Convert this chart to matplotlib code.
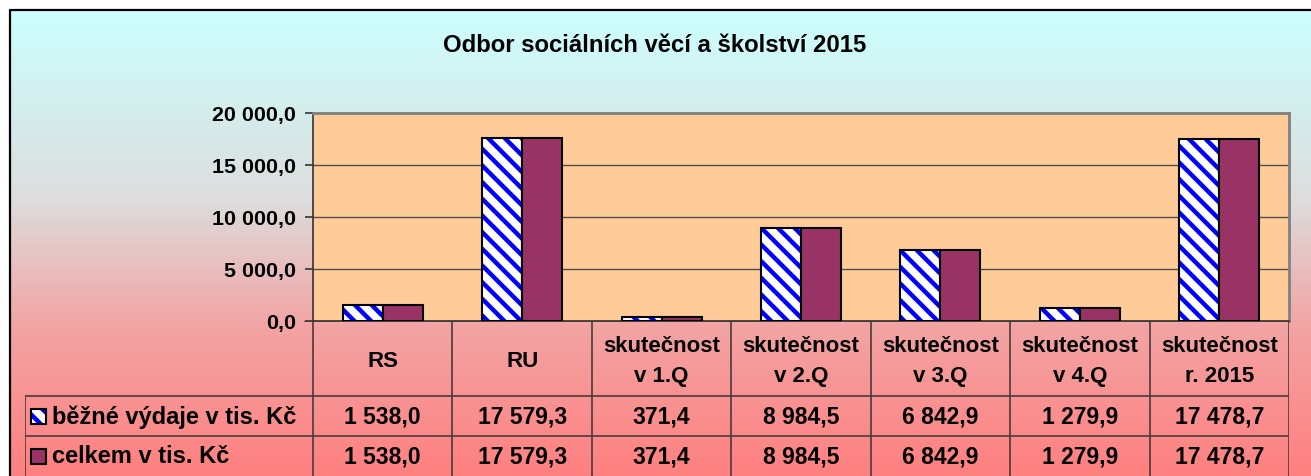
import numpy as np
import matplotlib
matplotlib.use("Agg")
import matplotlib.pyplot as plt
from matplotlib.patches import Rectangle

# ---- data ----
title = "Odbor sociálních věcí a školství 2015"
categories = ["RS", "RU", "skutečnost\nv 1.Q", "skutečnost\nv 2.Q",
              "skutečnost\nv 3.Q", "skutečnost\nv 4.Q", "skutečnost\nr. 2015"]
series_names = ["běžné výdaje v tis. Kč", "celkem v tis. Kč"]
bezne_vydaje = [1538.0, 17579.3, 371.4, 8984.5, 6842.9, 1279.9, 17478.7]
celkem = [1538.0, 17579.3, 371.4, 8984.5, 6842.9, 1279.9, 17478.7]
yticks = [0, 5000, 10000, 15000, 20000]

plt.rcParams['font.family'] = ['Liberation Sans', 'DejaVu Sans']
plt.rcParams['hatch.linewidth'] = 3.2

def fmt(v):
    s = f"{v:,.1f}"
    return s.replace(",", " ").replace(".", ",")

W, H = 1311, 477
fig = plt.figure(figsize=(W / 100, H / 100), dpi=100)
fig.patch.set_facecolor("white")

# ---- background gradient ----
bg = fig.add_axes([0, 0, 1, 1])
bg.set_xlim(0, W)
bg.set_ylim(H, 0)
bg.axis("off")
stops_y = [11, 200, 330, 477]
stops_c = np.array([[204, 255, 255], [221, 221, 221], [243, 163, 163], [255, 128, 128]]) / 255
ys = np.arange(11, H + 1)
grad = np.stack([np.interp(ys, stops_y, stops_c[:, k]) for k in range(3)], axis=1)
bg.imshow(grad[:, None, :], extent=[9, W, H, 11], aspect="auto", interpolation="bilinear")
bg.plot([9.5, 9.5, W], [H, 11, 11], color="black", lw=1.6, solid_capstyle="butt")
bg.text(655, 45, title, ha="center", va="center", fontsize=17.2, fontweight="bold")

# ---- main plot ----
pl, pr, pt, pb = 313, 1289, 114, 322
ax = fig.add_axes([pl / W, (H - pb) / H, (pr - pl) / W, (pb - pt) / H])
ax.set_facecolor("#FFCC99")
n = len(categories)
x = np.arange(n)
bw = 0.287
ax.bar(x - bw / 2, bezne_vydaje, bw, color="white", edgecolor="#0000FF", hatch="\\\\", lw=0, zorder=3)
ax.bar(x - bw / 2, bezne_vydaje, bw, fill=False, edgecolor="black", lw=1.5, zorder=4)
ax.bar(x + bw / 2, celkem, bw, color="#993366", edgecolor="black", lw=1.5, zorder=4)
ax.set_xlim(-0.5, n - 0.5)
ax.set_ylim(0, 20000)
ax.set_yticks(yticks)
ax.set_yticklabels([fmt(v) for v in yticks], fontsize=15.4, fontweight="bold")
ax.set_xticks([])
ax.tick_params(axis="y", direction="out", length=6, width=1.2, color="#333333", pad=6)
ax.yaxis.grid(True, color="#4d4d4d", lw=1, zorder=1)
ax.set_axisbelow(True)
for s in ["top", "right"]:
    ax.spines[s].set_color("#808080")
    ax.spines[s].set_linewidth(2)
ax.spines["left"].set_color("#333333")
ax.spines["bottom"].set_color("#333333")
ax.spines["left"].set_linewidth(1.2)
ax.spines["bottom"].set_linewidth(1.2)

# ---- data table ----
tl = 25
cw = (pr - pl) / n
legw = (pl - tl) / cw
tax = fig.add_axes([tl / W, 0, (pr - tl) / W, (H - pb) / H])
tax.set_xlim(-0.5 - legw, n - 0.5)
tax.set_ylim(H - pb, 0)
tax.axis("off")
tax.patch.set_alpha(0)
hdr, rh = 75, 40
lc = "#4a3a3a"
# vertical lines
for i in range(n + 1):
    tax.plot([i - 0.5, i - 0.5], [0, H - pb], color=lc, lw=1.2)
tax.plot([-0.5 - legw, -0.5 - legw], [hdr, H - pb], color=lc, lw=1.2)
# horizontal lines
tax.plot([-0.5 - 8 / cw, n - 0.5], [0, 0], color=lc, lw=1.2)
for r in range(2):
    yy = hdr + r * rh
    tax.plot([-0.5 - legw, n - 0.5], [yy, yy], color=lc, lw=1.2)

for i, c in enumerate(categories):
    tax.text(i, hdr / 2 + 2, c, ha="center", va="center", fontsize=16, fontweight="bold",
             linespacing=1.6)
for r, vals in enumerate([bezne_vydaje, celkem]):
    yc = hdr + r * rh + rh / 2
    for i, v in enumerate(vals):
        tax.text(i, yc, fmt(v), ha="center", va="center", fontsize=16.5, fontweight="bold")

# legend keys + labels
kx = -0.5 - legw + 6 / cw
kw = 15 / cw
for r, name in enumerate(series_names):
    yc = hdr + r * rh + rh / 2
    if r == 0:
        tax.add_patch(Rectangle((kx, yc - 7.5), kw, 15, facecolor="white", edgecolor="#0000FF",
                                hatch="\\\\", lw=0, zorder=3))
        tax.add_patch(Rectangle((kx, yc - 7.5), kw, 15, fill=False, edgecolor="black", lw=1.5, zorder=4))
    else:
        tax.add_patch(Rectangle((kx, yc - 7.5), kw, 15, facecolor="#993366", edgecolor="black",
                                lw=1.5, zorder=4))
    tax.text(kx + kw + 6 / cw, yc, name, ha="left", va="center", fontsize=17, fontweight="bold")

fig.savefig("out.png", dpi=100)
